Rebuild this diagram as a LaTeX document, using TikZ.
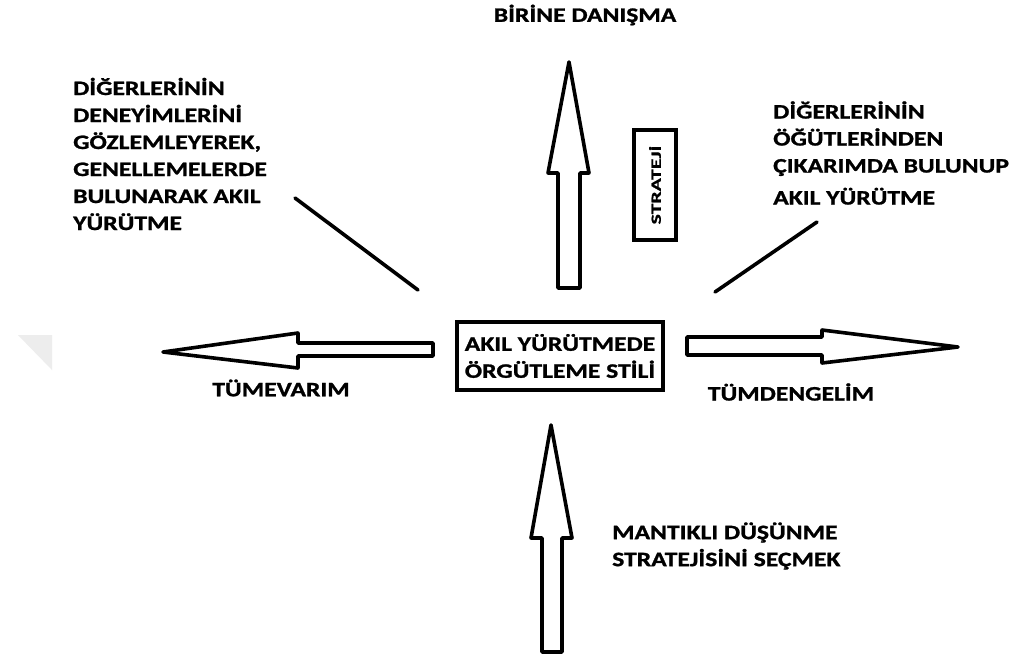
\documentclass[tikz,border=0pt]{standalone}
\usepackage{fontspec}
\setmainfont{Carlito}
\newfontfamily\labelfont{Carlito}[FakeStretch=1.25, BoldFeatures={FakeBold=1.2}]
\newfontfamily\tagfont{Carlito}[FakeStretch=1.55, BoldFeatures={FakeBold=1.2}]
\begin{document}
\begin{tikzpicture}[x=1pt,y=-1pt,
  blockarrow/.style={draw=black, fill=white, line width=3.6pt, line join=round},
  frame/.style={draw=black, line width=3.6pt, inner sep=0pt},
  lbl/.style={font=\labelfont\bfseries\fontsize{20.5}{27}\selectfont, inner sep=0pt},
  small/.style={font=\tagfont\bfseries\fontsize{14}{18}\selectfont},
  link/.style={draw=black, line width=3.6pt, line cap=round}]
\useasboundingbox (0,0) rectangle (1019,662);
\fill[white] (0,0) rectangle (1019,662);

% faint corner mark at the left edge
\fill[black!7] (18,335) -- (52,335) -- (52,370) -- cycle;

% central box
\node[frame, lbl, minimum width=206, minimum height=68, align=center] (center) at (560,356)
  {AKIL YÜRÜTMEDE\\ÖRGÜTLEME STİLİ};

% block arrows
\draw[blockarrow] (433,343) -- (298,343) -- (298,333) -- (163,352) -- (298,368) -- (298,356) -- (433,356) -- cycle;
\draw[blockarrow] (687,337) -- (822,337) -- (822,330) -- (958,347) -- (822,363) -- (822,355) -- (687,355) -- cycle;
\draw[blockarrow] (558,288) -- (558,173) -- (548,173) -- (569,62) -- (589,173) -- (580,173) -- (580,288) -- cycle;
\draw[blockarrow] (542,652) -- (542,538) -- (531,538) -- (551,425) -- (572,538) -- (562,538) -- (562,652) -- cycle;

% strategy tag
\node[frame, small, rotate=90, minimum width=110, minimum height=42] (strateji) at (655,185) {STRATEJİ};

% labels
\node[lbl] (top) at (585,15) {BİRİNE DANIŞMA};
\node[lbl] (ind) at (281,388) {TÜMEVARIM};
\node[lbl] (ded) at (791,392) {TÜMDENGELİM};
\node[lbl, anchor=west, align=left] (bottom) at (612,546)
  {MANTIKLI DÜŞÜNME\\STRATEJİSİNİ SEÇMEK};
\node[lbl, anchor=west, align=left] (left) at (73,154)
  {DİĞERLERİNİN\\DENEYİMLERİNİ\\GÖZLEMLEYEREK,\\GENELLEMELERDE\\BULUNARAK AKIL\\YÜRÜTME};
\node[lbl, anchor=west, align=left] (right) at (773,153)
  {DİĞERLERİNİN\\ÖĞÜTLERİNDEN\\ÇIKARIMDA BULUNUP\\[5pt]AKIL YÜRÜTME};

% diagonal links
\coordinate (lA) at (295,198);
\coordinate (lB) at (418,290);
\coordinate (rA) at (817,222);
\coordinate (rB) at (715,292);
\draw[link] (lA) -- (lB);
\draw[link] (rA) -- (rB);
\end{tikzpicture}
\end{document}
